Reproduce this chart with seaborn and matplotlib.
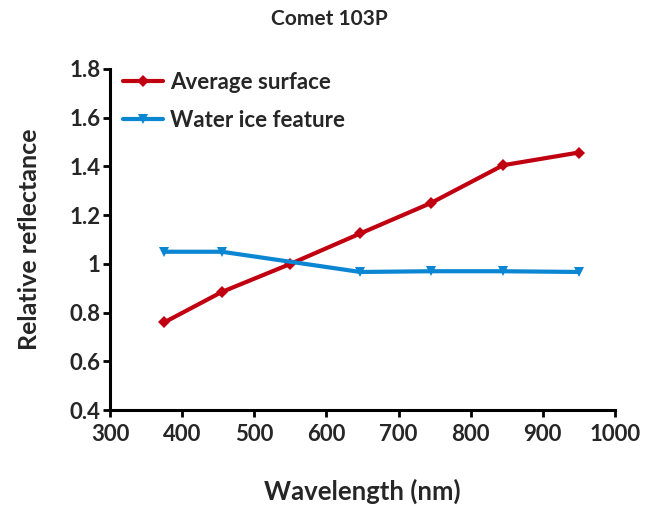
import matplotlib
matplotlib.use("Agg")
import matplotlib.pyplot as plt
import seaborn as sns
import pandas as pd

# values
wl_surface = [375, 455, 550, 647, 745, 845, 950]
average_surface = [0.76, 0.885, 1.0, 1.125, 1.25, 1.405, 1.457]
wl_ice = [375, 455, 647, 745, 845, 950]
water_ice = [1.05, 1.05, 0.967, 0.97, 0.97, 0.967]
series_names = ["Average surface", "Water ice feature"]

x_ticks = [300, 400, 500, 600, 700, 800, 900, 1000]
y_ticks = [0.4, 0.6, 0.8, 1.0, 1.2, 1.4, 1.6, 1.8]
y_tick_labels = ["0.4", "0.6", "0.8", "1", "1.2", "1.4", "1.6", "1.8"]

df = pd.DataFrame({
    "wavelength": wl_surface + wl_ice,
    "reflectance": average_surface + water_ice,
    "series": [series_names[0]] * len(wl_surface) + [series_names[1]] * len(wl_ice),
})

sns.set_style("ticks")
plt.rcParams["font.family"] = ["Lato", "DejaVu Sans"]
plt.rcParams["font.weight"] = "bold"

fig = plt.figure(figsize=(6.59, 5.07), dpi=100)
ax = fig.add_axes([0.167, 0.191, 0.766, 0.673])

palette = {series_names[0]: "#C00010", series_names[1]: "#0A86D2"}
markers = {series_names[0]: "D", series_names[1]: "v"}
sns.lineplot(data=df, x="wavelength", y="reflectance", hue="series", style="series",
             palette=palette, markers=markers, dashes=False, linewidth=3,
             markersize=6.5, markeredgewidth=0, ax=ax)

ax.set_xlim(300, 1000)
ax.set_ylim(0.4, 1.8)
ax.set_xticks(x_ticks)
ax.set_yticks(y_ticks)
ax.set_yticklabels(y_tick_labels)
ax.tick_params(axis="both", labelsize=16, width=2, length=5, direction="out",
               color="black", pad=2)
ax.tick_params(axis="x", pad=5)
for lab in ax.get_xticklabels() + ax.get_yticklabels():
    lab.set_fontweight("bold")

sns.despine(ax=ax)
for side in ["left", "bottom"]:
    ax.spines[side].set_linewidth(2.2)
    ax.spines[side].set_color("black")

ax.set_xlabel("Wavelength (nm)", fontsize=18.5, fontweight="bold")
ax.set_ylabel("Relative reflectance", fontsize=18, fontweight="bold")
ax.xaxis.set_label_coords(0.5, -0.2)
ax.yaxis.set_label_coords(-0.137, 0.5)
fig.text(0.5, 0.962, "Comet 103P", ha="center", va="center", fontsize=15, fontweight="bold")

leg = ax.legend(loc="upper left", frameon=False, fontsize=16, handlelength=1.8,
                handletextpad=0.3, borderaxespad=0.2, labelspacing=0.75,
                bbox_to_anchor=(0.0, 1.03))
for t in leg.get_texts():
    t.set_fontweight("bold")

fig.savefig("out.png", dpi=100)
